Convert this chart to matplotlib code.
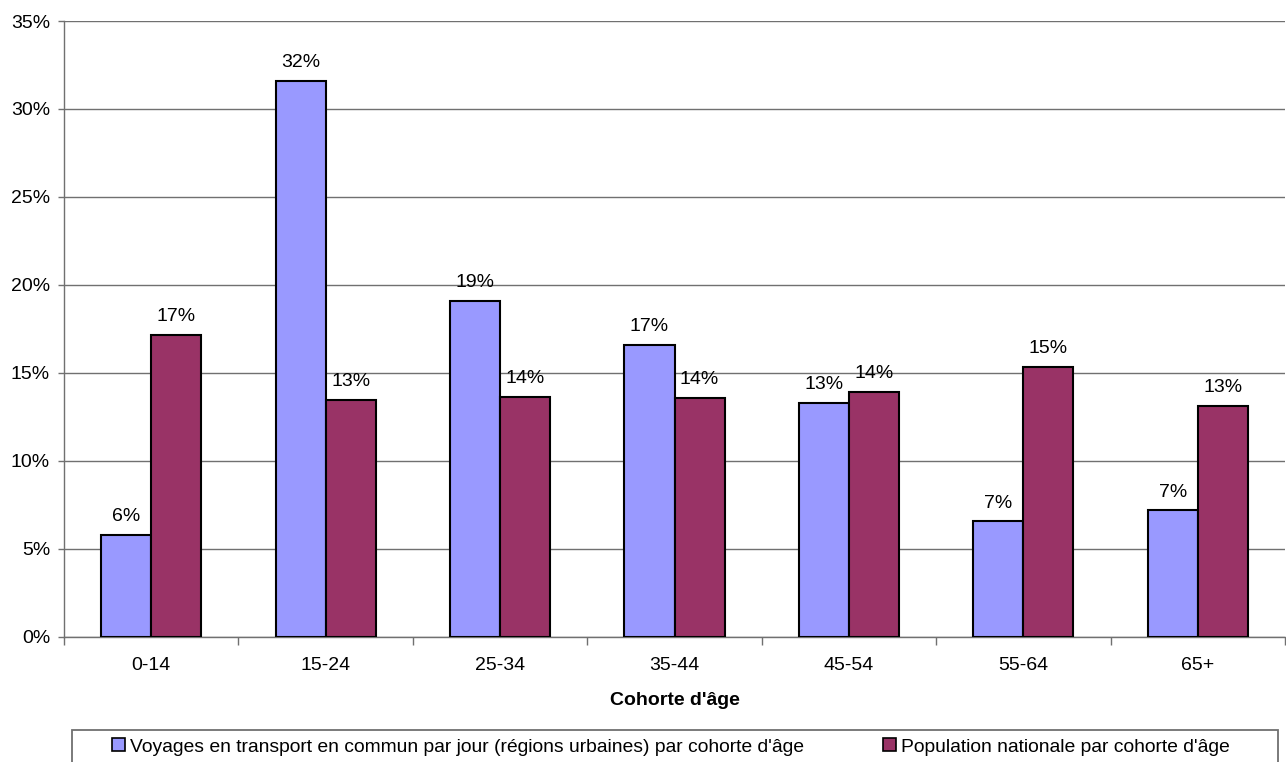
import matplotlib
matplotlib.use("Agg")
import matplotlib.pyplot as plt
import numpy as np
from matplotlib.patches import Rectangle, Patch

cohorts = ["0-14", "15-24", "25-34", "35-44", "45-54", "55-64", "65+"]
voyages = [5.77, 31.6, 19.1, 16.6, 13.3, 6.55, 7.18]
population = [17.15, 13.45, 13.64, 13.55, 13.9, 15.33, 13.1]
yticks = [0, 5, 10, 15, 20, 25, 30, 35]

lab_voyages = "Voyages en transport en commun par jour (régions urbaines) par cohorte d'âge"
lab_population = "Population nationale par cohorte d'âge"

BLUE = "#9999ff"
PLUM = "#993366"
GRID = "#707070"
FS = 14

plt.rcParams["font.family"] = ["Liberation Sans", "DejaVu Sans"]

W, H = 1286, 762
fig = plt.figure(figsize=(W / 100, H / 100), dpi=100)
ax = fig.add_axes([64 / W, 1 - 636.5 / H, (1285 - 64) / W, (636.5 - 21) / H])

x = np.arange(len(cohorts))
bw = 0.287
b1 = ax.bar(x - bw / 2, voyages, bw, color=BLUE, edgecolor="black", linewidth=1.5, zorder=3)
b2 = ax.bar(x + bw / 2, population, bw, color=PLUM, edgecolor="black", linewidth=1.5, zorder=3)

for bars, vals in ((b1, voyages), (b2, population)):
    for r, v in zip(bars, vals):
        ax.annotate(f"{int(v + 0.5)}%", (r.get_x() + r.get_width() / 2, v),
                    xytext=(0, 7), textcoords="offset points",
                    ha="center", va="bottom", fontsize=FS)

ax.set_xlim(-0.5, len(cohorts) - 0.5)
ax.set_ylim(0, 35)
ax.set_yticks(yticks)
ax.set_yticklabels([f"{t}%" for t in yticks], fontsize=FS)
ax.yaxis.grid(True, color=GRID, linewidth=1.0, zorder=0)

ax.set_xticks(x)
ax.set_xticklabels(cohorts, fontsize=FS)
ax.set_xticks(np.arange(-0.5, len(cohorts)), minor=True)
ax.tick_params(axis="x", which="major", length=0, pad=15)
ax.tick_params(axis="x", which="minor", length=6, width=1.0, color=GRID, direction="out")
ax.tick_params(axis="y", length=4, width=1.0, color=GRID, pad=6)

for s in ("top", "right"):
    ax.spines[s].set_visible(False)
for s in ("left", "bottom"):
    ax.spines[s].set_color(GRID)
    ax.spines[s].set_linewidth(1.0)

ax.set_xlabel("Cohorte d'âge", fontsize=FS, fontweight="bold", labelpad=13)

# legend box running off the bottom edge
fig.patches.append(Rectangle((72 / W, -0.02), (1278 - 72) / W, 0.02 + 1 - 730 / H,
                             transform=fig.transFigure, facecolor="white",
                             edgecolor=GRID, linewidth=1.3))
fig.legend([Patch(facecolor=BLUE, edgecolor="black", linewidth=1.2),
            Patch(facecolor=PLUM, edgecolor="black", linewidth=1.2)],
           [lab_voyages, lab_population], ncol=2, frameon=False,
           loc="center left", bbox_to_anchor=(112 / W, 1 - 747 / H),
           fontsize=13.85, handlelength=0.65, handleheight=0.65,
           handletextpad=0.3, columnspacing=4.1, borderpad=0, borderaxespad=0)

fig.savefig("out.png", dpi=100)
